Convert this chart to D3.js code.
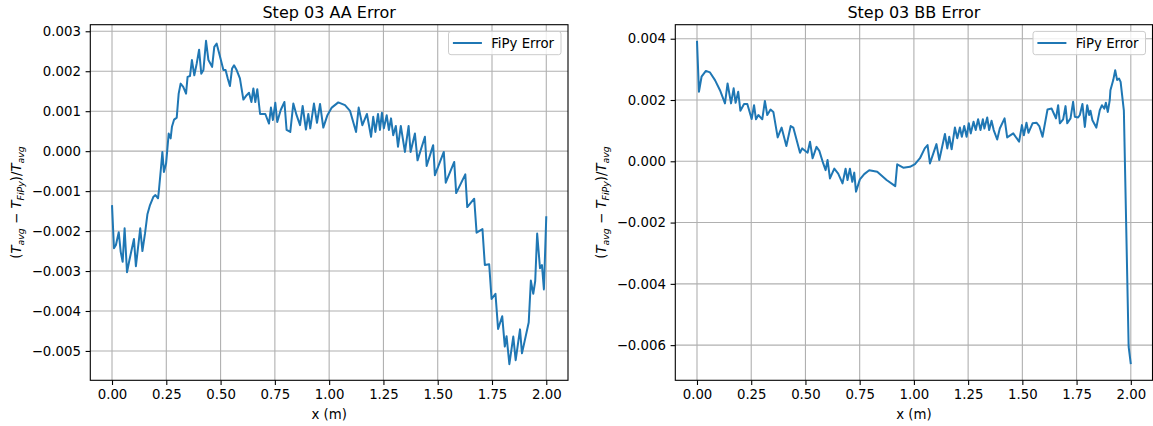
<!DOCTYPE html>
<html>
<head>
<meta charset="utf-8">
<script src="https://cdn.jsdelivr.net/npm/d3@7"></script>
<style>
	body { margin: 0; background: #fff; }
	svg text { font-family: "DejaVu Sans", sans-serif; fill: #000; }
</style>
</head>
<body>
<div id="chart"></div>
<script>
// values
var aaX = [0.000, 0.009, 0.018, 0.031, 0.040, 0.049, 0.058, 0.069, 0.080, 0.101, 0.110, 0.130, 0.140, 0.152, 0.163, 0.175, 0.190, 0.200, 0.212, 0.216,
	0.226, 0.232, 0.239, 0.249, 0.261, 0.270, 0.276, 0.286, 0.298, 0.307, 0.316, 0.328, 0.341, 0.348, 0.359, 0.368, 0.379, 0.390, 0.401, 0.411,
	0.421, 0.433, 0.444, 0.461, 0.471, 0.482, 0.494, 0.513, 0.523, 0.533, 0.543, 0.553, 0.562, 0.574, 0.589, 0.605, 0.620, 0.631, 0.642, 0.651,
	0.660, 0.669, 0.682, 0.706, 0.723, 0.732, 0.741, 0.752, 0.761, 0.777, 0.794, 0.804, 0.821, 0.835, 0.850, 0.866, 0.878, 0.893, 0.904, 0.913,
	0.930, 0.944, 0.958, 0.973, 0.992, 1.012, 1.042, 1.073, 1.096, 1.124, 1.136, 1.153, 1.174, 1.193, 1.203, 1.213, 1.225, 1.234, 1.243, 1.252,
	1.265, 1.275, 1.285, 1.295, 1.307, 1.317, 1.330, 1.349, 1.366, 1.375, 1.395, 1.407, 1.441, 1.449, 1.479, 1.487, 1.528, 1.537, 1.576, 1.585,
	1.627, 1.636, 1.668, 1.679, 1.706, 1.717, 1.737, 1.748, 1.766, 1.778, 1.797, 1.809, 1.817, 1.830, 1.848, 1.859, 1.879, 1.888, 1.919, 1.929,
	1.940, 1.949, 1.958, 1.971, 1.980, 1.989, 2.000];
var aaY = [-0.00135, -0.00243, -0.00235, -0.00203, -0.00252, -0.00277, -0.00193, -0.00303, -0.00273, -0.00220, -0.00288, -0.00193, -0.00250, -0.00206, -0.00158, -0.00135, -0.00115, -0.00110, -0.00118, -0.00098,
	-0.00039, -0.00002, -0.00052, -0.00031, 0.00044, 0.00032, 0.00061, 0.00079, 0.00084, 0.00144, 0.00169, 0.00161, 0.00144, 0.00186, 0.00188, 0.00228, 0.00190, 0.00219, 0.00254, 0.00194,
	0.00203, 0.00276, 0.00228, 0.00211, 0.00261, 0.00269, 0.00244, 0.00203, 0.00203, 0.00182, 0.00163, 0.00207, 0.00215, 0.00203, 0.00182, 0.00129, 0.00140, 0.00146, 0.00123, 0.00157,
	0.00123, 0.00155, 0.00093, 0.00093, 0.00069, 0.00109, 0.00078, 0.00121, 0.00073, 0.00103, 0.00123, 0.00053, 0.00048, 0.00119, 0.00090, 0.00065, 0.00113, 0.00054, 0.00093, 0.00057,
	0.00119, 0.00071, 0.00118, 0.00059, 0.00090, 0.00109, 0.00122, 0.00115, 0.00101, 0.00048, 0.00109, 0.00065, 0.00093, 0.00036, 0.00086, 0.00048, 0.00093, 0.00053, 0.00096, 0.00057,
	0.00090, 0.00053, 0.00082, 0.00040, 0.00063, 0.00011, 0.00063, -0.00002, 0.00063, -0.00002, 0.00044, -0.00023, 0.00036, -0.00037, 0.00015, -0.00060, -0.00002, -0.00079, -0.00027, -0.00105,
	-0.00058, -0.00140, -0.00119, -0.00204, -0.00195, -0.00285, -0.00283, -0.00370, -0.00357, -0.00445, -0.00413, -0.00489, -0.00463, -0.00533, -0.00464, -0.00523, -0.00446, -0.00506, -0.00429, -0.00324,
	-0.00357, -0.00325, -0.00206, -0.00293, -0.00285, -0.00346, -0.00163];

var bbX = [0.000, 0.009, 0.021, 0.041, 0.060, 0.083, 0.106, 0.129, 0.141, 0.157, 0.169, 0.178, 0.190, 0.200, 0.217, 0.232, 0.252, 0.263, 0.272, 0.283,
	0.301, 0.313, 0.324, 0.339, 0.352, 0.372, 0.390, 0.412, 0.432, 0.444, 0.475, 0.485, 0.510, 0.521, 0.533, 0.551, 0.564, 0.582, 0.593, 0.602,
	0.613, 0.633, 0.651, 0.671, 0.685, 0.694, 0.705, 0.716, 0.725, 0.733, 0.751, 0.771, 0.794, 0.831, 0.874, 0.914, 0.923, 0.951, 0.982, 1.005,
	1.028, 1.050, 1.063, 1.074, 1.104, 1.117, 1.143, 1.154, 1.163, 1.174, 1.189, 1.200, 1.212, 1.221, 1.232, 1.243, 1.253, 1.262, 1.275, 1.285,
	1.296, 1.307, 1.318, 1.325, 1.338, 1.347, 1.358, 1.368, 1.384, 1.396, 1.418, 1.430, 1.458, 1.485, 1.498, 1.507, 1.519, 1.528, 1.547, 1.565,
	1.578, 1.593, 1.616, 1.635, 1.645, 1.655, 1.665, 1.673, 1.688, 1.699, 1.707, 1.722, 1.734, 1.742, 1.757, 1.765, 1.777, 1.788, 1.799, 1.808,
	1.814, 1.823, 1.841, 1.857, 1.867, 1.878, 1.885, 1.894, 1.903, 1.906, 1.919, 1.928, 1.937, 1.946, 1.953, 1.968, 1.990, 2.000];
var bbY = [0.00393, 0.00227, 0.00276, 0.00295, 0.00290, 0.00265, 0.00232, 0.00189, 0.00254, 0.00189, 0.00238, 0.00191, 0.00227, 0.00165, 0.00187, 0.00187, 0.00138, 0.00183, 0.00137, 0.00151,
	0.00137, 0.00197, 0.00151, 0.00169, 0.00161, 0.00078, 0.00110, 0.00050, 0.00115, 0.00110, 0.00028, 0.00042, 0.00028, 0.00064, 0.00010, 0.00047, 0.00034, -0.00007, -0.00029, 0.00004,
	-0.00056, -0.00024, -0.00040, -0.00072, -0.00024, -0.00061, -0.00024, -0.00067, -0.00037, -0.00099, -0.00059, -0.00042, -0.00029, -0.00034, -0.00061, -0.00081, -0.00010, -0.00021, -0.00018, -0.00009,
	0.00010, 0.00042, 0.00053, -0.00007, 0.00056, 0.00004, 0.00089, 0.00042, 0.00080, 0.00039, 0.00110, 0.00075, 0.00110, 0.00080, 0.00115, 0.00080, 0.00124, 0.00091, 0.00129, 0.00102,
	0.00137, 0.00102, 0.00137, 0.00107, 0.00143, 0.00102, 0.00132, 0.00102, 0.00071, 0.00107, 0.00140, 0.00078, 0.00091, 0.00064, 0.00118, 0.00085, 0.00126, 0.00093, 0.00124, 0.00126,
	0.00115, 0.00080, 0.00169, 0.00172, 0.00156, 0.00140, 0.00183, 0.00124, 0.00137, 0.00180, 0.00124, 0.00140, 0.00194, 0.00145, 0.00143, 0.00151, 0.00187, 0.00112, 0.00183, 0.00151,
	0.00165, 0.00134, 0.00110, 0.00167, 0.00183, 0.00172, 0.00191, 0.00161, 0.00200, 0.00232, 0.00265, 0.00297, 0.00265, 0.00270, 0.00259, 0.00165, -0.00605, -0.00662];

var xTicks = [0, 0.25, 0.5, 0.75, 1, 1.25, 1.5, 1.75, 2];
var aaYTicks = [-0.005, -0.004, -0.003, -0.002, -0.001, 0, 0.001, 0.002, 0.003];
var bbYTicks = [-0.006, -0.004, -0.002, 0, 0.002, 0.004];
var titles = ["Step 03 AA Error", "Step 03 BB Error"];
var legendLabel = "FiPy Error";
var xLabel = "x (m)";

var chartWidth = 1153,
	chartHeight = 426,
	lineColor = "#1f77b4",
	gridColor = "#b0b0b0",
	tickLen = 4.7,
	fontSize = 13.3;

var svg = d3.select("#chart")
	.append("svg")
	.attr("width", chartWidth)
	.attr("height", chartHeight);

function padded(ext) {
	var m = (ext[1] - ext[0]) * 0.05;
	return [ext[0] - m, ext[1] + m];
}

function drawPanel(p) {
	var w = p.right - p.left,
		h = p.bottom - p.top,
		xScale = d3.scaleLinear().domain(padded(d3.extent(p.xs))).range([0, w]),
		yScale = d3.scaleLinear().domain(padded(d3.extent(p.ys))).range([h, 0]),
		g = svg.append("g").attr("transform", "translate(" + p.left + "," + p.top + ")");

	// grid
	g.append("g").selectAll("line").data(xTicks).enter().append("line")
		.attr("x1", function(d) { return xScale(d); })
		.attr("x2", function(d) { return xScale(d); })
		.attr("y1", 0).attr("y2", h)
		.style("stroke", gridColor).style("stroke-width", 1.1);
	g.append("g").selectAll("line").data(p.yTicks).enter().append("line")
		.attr("y1", function(d) { return yScale(d); })
		.attr("y2", function(d) { return yScale(d); })
		.attr("x1", 0).attr("x2", w)
		.style("stroke", gridColor).style("stroke-width", 1.1);

	// series
	var line = d3.line()
		.x(function(d, i) { return xScale(p.xs[i]); })
		.y(function(d) { return yScale(d); });
	g.append("path")
		.datum(p.ys)
		.attr("d", line)
		.style("fill", "none")
		.style("stroke", lineColor)
		.style("stroke-width", 2)
		.style("stroke-linejoin", "round");

	// axes
	var xAxis = g.append("g")
		.attr("transform", "translate(0," + h + ")")
		.call(d3.axisBottom(xScale).tickValues(xTicks).tickFormat(d3.format(".2f")).tickSize(tickLen).tickPadding(4.7));
	var yAxis = g.append("g")
		.call(d3.axisLeft(yScale).tickValues(p.yTicks).tickFormat(d3.format(".3f")).tickSize(tickLen).tickPadding(4.7));
	[xAxis, yAxis].forEach(function(a) {
		a.select(".domain").remove();
		a.selectAll("line").style("stroke", "#000").style("stroke-width", 1.1);
		a.selectAll("text").style("font-size", fontSize + "px").style("fill", "#000");
		a.attr("font-family", null);
	});

	g.append("rect")
		.attr("width", w).attr("height", h)
		.style("fill", "none").style("stroke", "#000").style("stroke-width", 1.1);

	// title + labels
	svg.append("text")
		.attr("x", p.left + w / 2).attr("y", 18)
		.attr("text-anchor", "middle")
		.style("font-size", "16px")
		.text(p.title);
	svg.append("text")
		.attr("x", p.left + w / 2).attr("y", 418.5)
		.attr("text-anchor", "middle")
		.style("font-size", fontSize + "px")
		.text(xLabel);

	var yl = svg.append("text")
		.attr("transform", "translate(" + p.yLabelX + "," + (p.top + h / 2) + ") rotate(-90)")
		.attr("text-anchor", "middle")
		.style("font-size", fontSize + "px");
	var parts = [
		["(", false, 0], ["T", true, 0], ["avg", true, 1], [" \u2212 ", false, 0],
		["T", true, 0], ["FiPy", true, 1], [")/", false, 0], ["T", true, 0], ["avg", true, 1]
	];
	var shift = 0;
	parts.forEach(function(pt) {
		var target = pt[2] ? 3 : 0;
		yl.append("tspan")
			.attr("dy", target - shift)
			.style("font-style", pt[1] ? "italic" : "normal")
			.style("font-size", pt[2] ? "9.4px" : fontSize + "px")
			.text(pt[0]);
		shift = target;
	});

	// legend
	var lg = svg.append("g").attr("transform", "translate(" + (p.right - 7 - 112.5) + "," + (p.top + 6.7) + ")");
	lg.append("rect")
		.attr("width", 112.5).attr("height", 23.3)
		.attr("rx", 2.5)
		.style("fill", "rgba(255,255,255,0.8)")
		.style("stroke", "#cccccc")
		.style("stroke-width", 1);
	lg.append("line")
		.attr("x1", 4.4).attr("x2", 33.4)
		.attr("y1", 11.6).attr("y2", 11.6)
		.style("stroke", lineColor).style("stroke-width", 2);
	lg.append("text")
		.attr("x", 42.7).attr("y", 16.3)
		.style("font-size", fontSize + "px")
		.text(legendLabel);
}

drawPanel({ left: 90.3, right: 568, top: 24.7, bottom: 380.3, xs: aaX, ys: aaY, yTicks: aaYTicks, title: titles[0], yLabelX: 21 });
drawPanel({ left: 675.3, right: 1152.5, top: 24.7, bottom: 380.3, xs: bbX, ys: bbY, yTicks: bbYTicks, title: titles[1], yLabelX: 606 });
</script>
</body>
</html>
